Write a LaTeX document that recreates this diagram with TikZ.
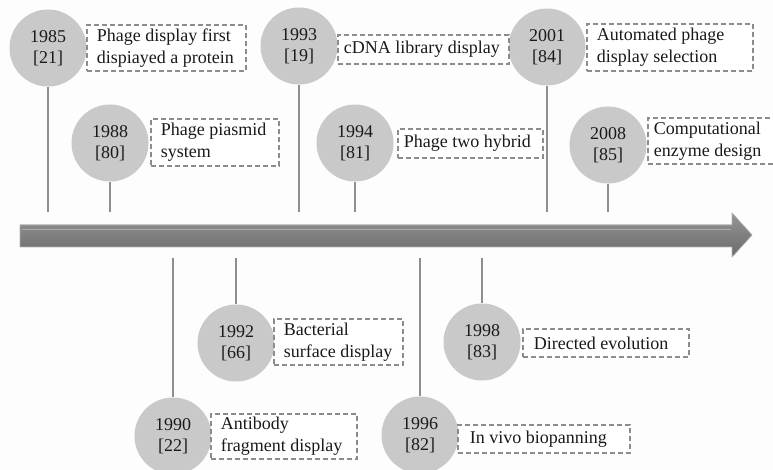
\documentclass[tikz,border=0pt]{standalone}
\usepackage{fontspec}
\setmainfont{Liberation Serif}
\definecolor{circfill}{HTML}{C9C9C9}
\definecolor{linegray}{HTML}{8E8E8E}
\definecolor{boxgray}{HTML}{8C8C8C}
\definecolor{txt}{HTML}{1A1A1A}
\definecolor{bgcol}{HTML}{FDFDFD}
\tikzset{
  yearcirc/.style={circle, fill=circfill, minimum size=77pt, inner sep=0pt, align=center,
    font=\fontsize{18}{21}\selectfont, text=txt},
  eventbox/.style={draw=boxgray, line width=1.8pt, dash pattern=on 5pt off 3pt, fill=white,
    inner xsep=9pt, inner ysep=0pt, align=flush left, anchor=north west,
    font=\fontsize{18}{22}\selectfont, text=txt},
  stick/.style={draw=linegray, line width=2pt},
}
\begin{document}
\begin{tikzpicture}[x=1pt,y=-1pt]
\useasboundingbox (0,0) rectangle (773,470);
\fill[bgcol] (0,0) rectangle (773,470);

% timeline arrow
\fill[top color=black!42, bottom color=black!58, middle color=black!50]
  (20,225) -- (732,225) -- (732,213) -- (752,235) -- (732,257) -- (732,247) -- (20,247) -- cycle;
\draw[black!32, line width=1.2pt] (22,229.5) -- (731,229.5);
\draw[black!30, line width=0.6pt] (20,225) -- (732,225) -- (732,213) -- (752,235) -- (732,257) -- (732,247) -- (20,247) -- cycle;

% upper events
\node[yearcirc] (c85) at (48,48) {1985\\{[21]}};
\node[yearcirc] (c93) at (299,46) {1993\\{[19]}};
\node[yearcirc] (c01) at (547,47) {2001\\{[84]}};
\node[yearcirc] (c88) at (110,143) {1988\\{[80]}};
\node[yearcirc] (c94) at (355,143) {1994\\{[81]}};
\node[yearcirc] (c08) at (608,145) {2008\\{[85]}};

\node[eventbox, minimum height=46pt, inner xsep=10pt, text width=139pt] (e85) at (86,24) {Phage display first\\dispiayed a protein};
\node[eventbox, minimum height=29pt, inner xsep=6pt, text width=159pt] (e93) at (337,34) {cDNA library display};
\node[eventbox, minimum height=47pt, inner xsep=10pt, text width=146pt] (e01) at (586,23) {Automated phage\\display selection};
\node[eventbox, minimum height=47pt, inner xsep=10pt, text width=108pt] (e88) at (150,118) {Phage piasmid\\system};
\node[eventbox, minimum height=29pt, inner xsep=6pt, text width=133pt] (e94) at (397,128) {Phage two hybrid};
\node[eventbox, minimum height=46pt, inner xsep=6pt, text width=130pt] (e08) at (647,117) {Computational\\enzyme design};

\coordinate (t85) at (48,212);
\coordinate (t93) at (299,212);
\coordinate (t01) at (547,212);
\coordinate (t88) at (110,212);
\coordinate (t94) at (355,212);
\coordinate (t08) at (608,212);
\draw[stick] (c85.south) -- (t85);
\draw[stick] (c93.south) -- (t93);
\draw[stick] (c01.south) -- (t01);
\draw[stick] (c88.south) -- (t88);
\draw[stick] (c94.south) -- (t94);
\draw[stick] (c08.south) -- (t08);

% lower events
\node[yearcirc] (c92) at (236,343) {1992\\{[66]}};
\node[yearcirc] (c98) at (482,342) {1998\\{[83]}};
\node[yearcirc] (c90) at (173,436) {1990\\{[22]}};
\node[yearcirc] (c96) at (420,435) {1996\\{[82]}};

\node[eventbox, minimum height=46pt, inner xsep=10pt, text width=109pt] (e92) at (273,318) {Bacterial\\surface display};
\node[eventbox, minimum height=28pt, inner xsep=11pt, text width=144pt] (e98) at (522,328) {Directed evolution};
\node[eventbox, minimum height=45pt, inner xsep=10pt, text width=126pt] (e90) at (210,413) {Antibody\\fragment display};
\node[eventbox, minimum height=28pt, inner xsep=12pt, text width=148pt] (e96) at (457,424) {In vivo biopanning};

\coordinate (b92) at (236,258);
\coordinate (b98) at (482,258);
\coordinate (b90) at (173,258);
\coordinate (b96) at (420,258);
\draw[stick] (b92) -- (c92.north);
\draw[stick] (b98) -- (c98.north);
\draw[stick] (b90) -- (c90.north);
\draw[stick] (b96) -- (c96.north);
\end{tikzpicture}
\end{document}
